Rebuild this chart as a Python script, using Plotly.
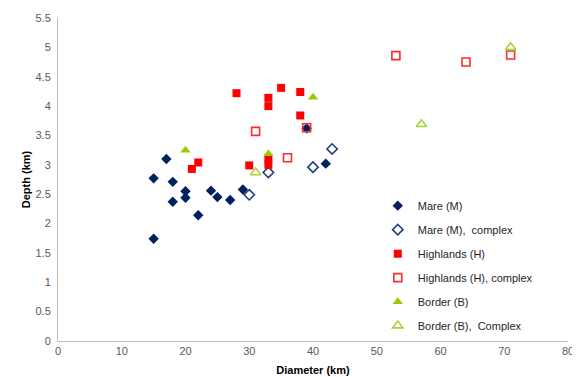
import plotly.graph_objects as go

mare_x = [15, 15, 17, 18, 18, 20, 20, 22, 24, 25, 27, 29, 39, 42]
mare_y = [1.74, 2.77, 3.10, 2.71, 2.37, 2.55, 2.44, 2.14, 2.56, 2.45, 2.40, 2.58, 3.62, 3.02]

mare_c_x = [30, 33, 40, 43]
mare_c_y = [2.49, 2.87, 2.96, 3.27]

high_x = [21, 22, 28, 30, 33, 33, 33, 33, 35, 38, 38]
high_y = [2.93, 3.04, 4.22, 2.99, 3.00, 3.11, 4.00, 4.14, 4.31, 4.24, 3.84]

high_c_x = [31, 36, 39, 53, 64, 71]
high_c_y = [3.57, 3.12, 3.63, 4.86, 4.75, 4.87]

border_x = [20, 33, 40]
border_y = [3.25, 3.19, 4.15]

border_c_x = [31, 57, 71]
border_c_y = [2.87, 3.69, 5.00]

names = ["Mare (M)", "Mare (M),  complex", "Highlands (H)",
         "Highlands (H), complex", "Border (B)", "Border (B),  Complex"]

fig = go.Figure()

def add(x, y, name, symbol, color, size, open_=False):
    if open_:
        marker = dict(symbol=symbol + "-open", size=size, color=color,
                      line=dict(width=1.6, color=color))
    else:
        marker = dict(symbol=symbol, size=size, color=color, line=dict(width=0))
    fig.add_trace(go.Scatter(x=x, y=y, mode="markers", name=name,
                             legendgroup=name, marker=marker))

add(mare_x, mare_y, names[0], "diamond", "#002060", 8)
add(mare_c_x, mare_c_y, names[1], "diamond", "#1F3F7F", 8, open_=True)
add(high_x, high_y, names[2], "square", "#FF0000", 8)
add(high_c_x, high_c_y, names[3], "square", "#FF2A2A", 8, open_=True)
add(border_x, border_y, names[4], "triangle-up", "#99CC00", 9)
add(border_c_x, border_c_y, names[5], "triangle-up", "#A8D13A", 9, open_=True)

axis_font = dict(family="Liberation Sans, Arial", size=11, color="#595959")
title_font = dict(family="Liberation Sans, Arial", size=11, color="#000000")

# page body has an 8px margin, so the figure is sized to fit the window
fig.update_layout(
    width=572, height=369,
    margin=dict(l=50, r=12, t=10, b=36),
    paper_bgcolor="white", plot_bgcolor="white",
    font=dict(family="Liberation Sans, Arial", size=11, color="#262626"),
    showlegend=True,
    legend=dict(x=0.627, y=0.464, xanchor="left", yanchor="top",
                font=dict(family="Liberation Sans, Arial", size=11, color="#262626"),
                tracegroupgap=5, itemwidth=30, bgcolor="rgba(0,0,0,0)"),
    xaxis=dict(range=[0, 80], dtick=10, tick0=0, showgrid=False, zeroline=False,
               showline=True, linecolor="#BFBFBF", linewidth=1, ticks="",
               tickfont=axis_font, automargin=False,
               title=dict(text="<b>Diameter (km)</b>", font=title_font, standoff=10)),
    yaxis=dict(range=[0, 5.5], dtick=0.5, tick0=0, showgrid=False, zeroline=False,
               showline=True, linecolor="#BFBFBF", linewidth=1, ticks="",
               tickfont=axis_font, ticklabelstandoff=4, automargin=False,
               title=dict(text="<b>Depth (km)</b>", font=title_font, standoff=2)),
)

fig.write_html("out.html")
